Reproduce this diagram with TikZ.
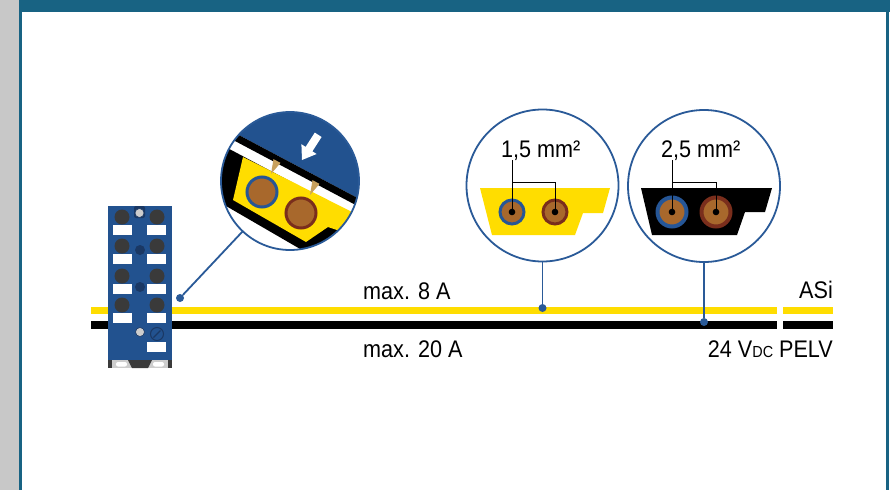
\documentclass[tikz,border=0pt]{standalone}
\usepackage{fontspec}
\setmainfont{Liberation Sans}[FakeStretch=0.9]

\definecolor{frameteal}{RGB}{24,99,131}
\definecolor{framegray}{RGB}{200,200,200}
\definecolor{modblue}{RGB}{34,82,143}
\definecolor{modnavy}{RGB}{26,56,100}
\definecolor{lensblue}{RGB}{42,90,152}
\definecolor{asiyellow}{RGB}{255,221,0}
\definecolor{plugdark}{RGB}{58,58,58}
\definecolor{ledgray}{RGB}{205,205,205}
\definecolor{copper}{RGB}{168,104,44}
\definecolor{ringblue}{RGB}{38,86,150}
\definecolor{ringbrown}{RGB}{122,46,28}
\definecolor{pintan}{RGB}{200,160,92}

\tikzset{
    lens/.style={circle, draw=lensblue, line width=1.8pt, inner sep=0pt, outer sep=0pt},
    tapdot/.style={circle, fill=lensblue, inner sep=0pt, minimum size=8pt},
    pointer/.style={lensblue, line width=1.8pt},
    core/.style={circle, fill=copper, inner sep=0pt, outer sep=0pt},
    leader/.style={black, line width=0.9pt},
    cablelabel/.style={inner sep=0pt, font=\fontsize{24}{28}\selectfont}
}

\begin{document}
\begin{tikzpicture}[x=1pt, y=-1pt]
    \useasboundingbox (0,0) rectangle (890,490);

    % Page frame
    \fill[white] (0,0) rectangle (890,490);
    \fill[framegray] (0,0) rectangle (19,490);
    \fill[frameteal] (19,0) rectangle (890,12);
    \fill[frameteal] (19,0) rectangle (22,490);
    \fill[frameteal] (886,0) rectangle (889,490);

    % Flat cables: ASi (yellow) and 24 V (black)
    \draw[asiyellow, line width=7pt] (91,310) -- (777,310);
    \draw[asiyellow, line width=7pt] (783,310) -- (833,310);
    \draw[black, line width=7.5pt] (91,325) -- (777,325);
    \draw[black, line width=7.5pt] (783,325) -- (833,325);

    % I/O module
    \begin{scope}[shift={(108,206)}]
        \fill[modblue] (0,0) rectangle (64,154);
        % mounting foot
        \fill[plugdark] (0,154) rectangle (64,162);
        \fill[ledgray] (4,154) rectangle (60,162);
        \fill[plugdark] (20,154) -- (44,154) -- (40,162) -- (24,162) -- cycle;
        \fill[white, rounded corners=2pt] (8,156) rectangle (19,160.5);
        \fill[white, rounded corners=2pt] (45,156) rectangle (56,160.5);
        % top LED
        \fill[modnavy, rounded corners=2pt] (26,0) rectangle (37,12);
        \filldraw[fill=ledgray, draw=modnavy, line width=0.6pt] (31.5,7) circle (4.5pt);
        % sockets with marker tags
        \foreach \row in {11,40,70,99} {
            \fill[plugdark] (14,\row) circle (7.5pt);
            \fill[plugdark] (49,\row) circle (7.5pt);
            \fill[white] (5,\row+8) rectangle (24,\row+18);
            \fill[white] (39,\row+8) rectangle (58,\row+18);
        }
        \fill[modnavy] (32,44) circle (5pt);
        \fill[modnavy] (32,81) circle (5pt);
        \filldraw[fill=ledgray, draw=modnavy, line width=0.6pt] (32,126) circle (4.5pt);
        % address screw
        \draw[modnavy, line width=1pt] (49,128) circle (6.5pt);
        \draw[modnavy, line width=1.2pt] (45.5,131.5) -- (52.5,124.5);
        \fill[white] (39,136) rectangle (58,146);
    \end{scope}

    % Detail of the cable clamp
    \coordinate (lensMc) at (290,181);
    \begin{scope}
        \clip (lensMc) circle (69pt);
        \fill[white] (210,100) rectangle (370,260);
        \fill[modblue] (210,100) -- (370,100) -- (370,204.6) -- (210,119.75) -- cycle;
        \fill[black] (210,119.75) -- (370,204.6) -- (370,212.6) -- (210,127.75) -- cycle;
        \fill[black] (210,138.75) -- (370,223.6) -- (370,289.5) -- (210,196.7) -- cycle;
        \fill[asiyellow] (243,157) -- (356,214) -- (340,231) -- (328,227)
            -- (306,242) -- (233,200) -- cycle;
        % piercing pins
        \fill[pintan] (273.5,159.1) -- (280.5,162.9) -- (271,174) -- cycle;
        \fill[pintan] (312.5,180.1) -- (319.5,183.9) -- (310,195) -- cycle;
        % pressing arrow
        \fill[white] (302,160) -- (316.6,154) -- (312.4,151.3) -- (321.6,137)
            -- (314.8,132.6) -- (305.6,146.9) -- (301.4,144.2) -- cycle;
        \node[core, draw=ringblue, line width=3pt, minimum size=30pt] (cMa) at (262,192) {};
        \node[core, draw=ringbrown, line width=3pt, minimum size=30pt] (cMb) at (301,213) {};
    \end{scope}
    \node[lens, minimum size=138pt] (lensM) at (lensMc) {};

    % ASi cable profile
    \fill[asiyellow] (480,188) -- (610,188) -- (603,213) -- (583,213)
        -- (575,235) -- (492,235) -- cycle;
    \node[core, draw=ringblue, line width=3pt, minimum size=24pt] (c1a) at (512,212) {};
    \node[core, draw=ringbrown, line width=3pt, minimum size=24pt] (c1b) at (555,212) {};
    \fill[black] (c1a.center) circle (3.3pt);
    \fill[black] (c1b.center) circle (3.3pt);
    \node[cablelabel, anchor=base west] (size1) at (501,157) {1,5 mm²};
    \coordinate (j1) at (530,182);
    \draw[leader] (c1a.center) -- (c1a |- size1.south);
    \draw[leader] (c1a |- j1) -| (c1b.center);
    \node[lens, minimum size=152pt] (lens1) at (542.5,185.5) {};

    % Power cable profile
    \fill[black] (641,188) -- (772,188) -- (765,212) -- (745,212)
        -- (737,235) -- (652,235) -- cycle;
    \node[core, draw=ringblue, line width=4pt, minimum size=29pt] (c2a) at (672,212) {};
    \node[core, draw=ringbrown, line width=4pt, minimum size=29pt] (c2b) at (716,212) {};
    \fill[black] (c2a.center) circle (3.3pt);
    \fill[black] (c2b.center) circle (3.3pt);
    \node[cablelabel, anchor=base west] (size2) at (661,157) {2,5 mm²};
    \coordinate (j2) at (694,182);
    \draw[leader] (c2a.center) -- (c2a |- size2.south);
    \draw[leader] (c2a |- j2) -| (c2b.center);
    \node[lens, minimum size=152pt] (lens2) at (704,186) {};

    % Pointers
    \node[tapdot] (tapM) at (180,298) {};
    \node[tapdot] (tap1) at (542.5,308) {};
    \node[tapdot] (tap2) at (704,322) {};
    \draw[pointer] (tapM) -- (lensM);
    \draw[pointer] (lens1) -- (tap1);
    \draw[pointer] (lens2) -- (tap2);

    % Cable ratings
    \node[cablelabel, anchor=base west] (asiA) at (363,299) {max. 8 A};
    \node[cablelabel, anchor=base west] (pwrA) at (363,357) {max. 20 A};
    \node[cablelabel, anchor=base east] (asi) at (833,298) {ASi};
    \node[cablelabel, anchor=base east] (pelv) at (833,357)
        {24 V{\fontsize{16}{16}\selectfont DC} PELV};

\end{tikzpicture}
\end{document}
